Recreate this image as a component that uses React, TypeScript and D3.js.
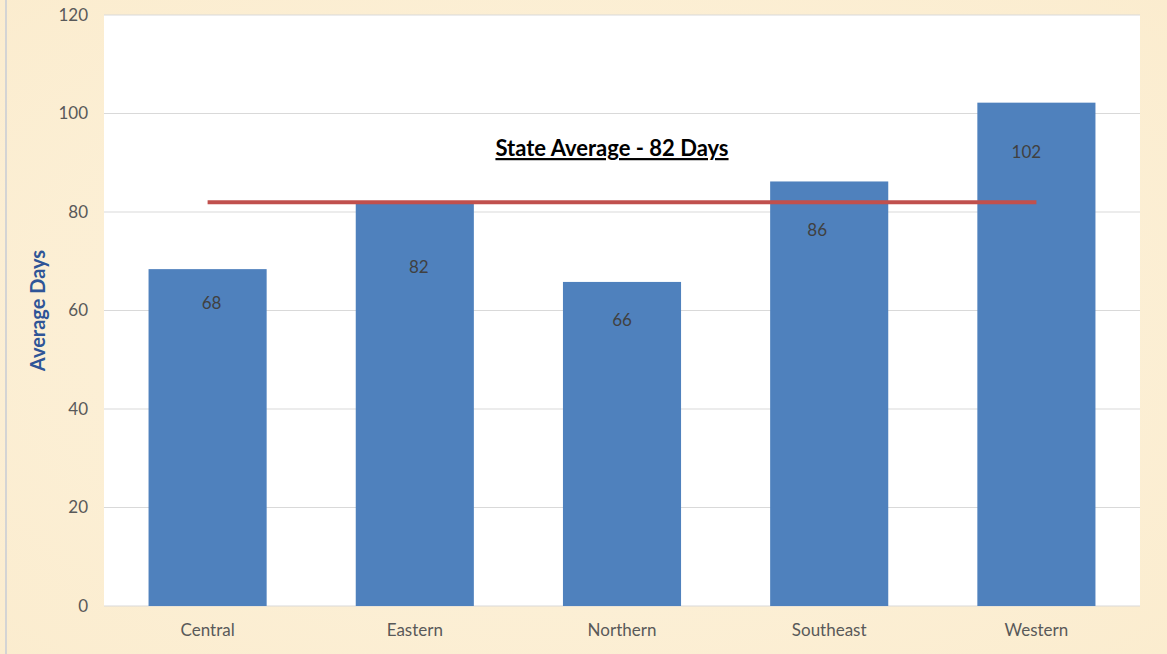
import React, { useEffect, useRef } from 'react';
import * as d3 from 'd3';

// Données du graphique
const regions = ['Central', 'Eastern', 'Northern', 'Southeast', 'Western'];
const avgDays = [68.4, 82.1, 65.8, 86.2, 102.2];
const dayLabels = ['68', '82', '66', '86', '102'];
const yTicks = [0, 20, 40, 60, 80, 100, 120];
const stateAverage = 82;
const averageTitle = 'State Average - 82 Days';

// Étiquettes déplacées à la main dans l'original (px)
const labelDrop = [40, 71, 44, 55, 55];
const labelShift = [4, 4, 0, -12, -10];

const App = () => {
  const svgRef = useRef<SVGSVGElement>(null);

  useEffect(() => {
    document.body.style.margin = '0';

    const width = 1167;
    const height = 654;
    const margin = { top: 15, right: 27, bottom: 48, left: 104 };
    const innerW = width - margin.left - margin.right;
    const innerH = height - margin.top - margin.bottom;
    const font = 'Lato, "Open Sans", sans-serif';

    const svg = d3.select(svgRef.current);
    svg.selectAll('*').remove();
    svg.attr('width', width).attr('height', height);

    // Fond parchemin
    const defs = svg.append('defs');
    const grad = defs.append('radialGradient').attr('id', 'parch').attr('cx', '50%').attr('cy', '50%').attr('r', '75%');
    grad.append('stop').attr('offset', '0%').attr('stop-color', '#fdf3de');
    grad.append('stop').attr('offset', '100%').attr('stop-color', '#fbecce');
    svg.append('rect').attr('width', width).attr('height', height).attr('fill', 'url(#parch)');
    svg.append('line')
      .attr('x1', 6).attr('x2', 6).attr('y1', 0).attr('y2', height)
      .attr('stroke', '#d4d4d4').attr('stroke-width', 2);

    const g = svg.append('g').attr('transform', `translate(${margin.left},${margin.top})`);

    const xScale = d3.scaleBand().domain(regions).range([0, innerW]).padding(0);
    const yScale = d3.scaleLinear().domain([0, 120]).range([innerH, 0]);

    g.append('rect').attr('width', innerW).attr('height', innerH).attr('fill', '#ffffff');

    // Grille
    g.selectAll('.grid')
      .data(yTicks)
      .join('line')
      .attr('x1', 0).attr('x2', innerW)
      .attr('y1', d => yScale(d)).attr('y2', d => yScale(d))
      .attr('stroke', '#d9d9d9').attr('stroke-width', 1);

    // Axe Y
    const yAxis = d3.axisLeft(yScale).tickValues(yTicks).tickSize(0).tickPadding(16);
    const yG = g.append('g').call(yAxis);
    yG.select('.domain').remove();
    yG.selectAll('text')
      .attr('font-family', font)
      .attr('font-size', 17)
      .attr('fill', '#595959');

    // Axe X
    const xAxis = d3.axisBottom(xScale).tickSize(0).tickPadding(18);
    const xG = g.append('g').attr('transform', `translate(0,${innerH})`).call(xAxis);
    xG.select('.domain').remove();
    xG.selectAll('text')
      .attr('font-family', font)
      .attr('font-size', 17)
      .attr('fill', '#595959');

    // Barres
    const bw = xScale.bandwidth() * 0.57;
    const bars = regions.map((r, i) => ({
      r, v: avgDays[i], label: dayLabels[i], drop: labelDrop[i], shift: labelShift[i],
    }));
    g.selectAll('.bar')
      .data(bars)
      .join('rect')
      .attr('x', d => xScale(d.r)! + (xScale.bandwidth() - bw) / 2)
      .attr('y', d => yScale(d.v))
      .attr('width', bw)
      .attr('height', d => innerH - yScale(d.v))
      .attr('fill', '#4f81bd');

    g.selectAll('.lbl')
      .data(bars)
      .join('text')
      .attr('x', d => xScale(d.r)! + xScale.bandwidth() / 2 + d.shift)
      .attr('y', d => yScale(d.v) + d.drop)
      .attr('text-anchor', 'middle')
      .attr('font-family', font)
      .attr('font-size', 17)
      .attr('fill', '#404040')
      .text(d => d.label);

    // Ligne moyenne de l'état
    const line = d3.line<string>()
      .x(r => xScale(r)! + xScale.bandwidth() / 2)
      .y(() => yScale(stateAverage));
    g.append('path')
      .datum([regions[0], regions[regions.length - 1]])
      .attr('fill', 'none')
      .attr('stroke', '#c0504d')
      .attr('stroke-width', 4)
      .attr('d', line);

    g.append('text')
      .attr('x', 508)
      .attr('y', yScale(100.5) + 45)
      .attr('text-anchor', 'middle')
      .attr('font-family', font)
      .attr('font-size', 22)
      .attr('font-weight', 'bold')
      .attr('text-decoration', 'underline')
      .attr('fill', '#000000')
      .text(averageTitle);

    // Titre de l'axe Y
    svg.append('text')
      .attr('transform', `translate(45,${margin.top + innerH / 2}) rotate(-90)`)
      .attr('text-anchor', 'middle')
      .attr('font-family', font)
      .attr('font-size', 20)
      .attr('font-weight', 'bold')
      .attr('fill', '#2f5597')
      .text('Average Days');
  }, []);

  return <svg ref={svgRef} style={{ display: 'block' }}></svg>;
};

export default App;
